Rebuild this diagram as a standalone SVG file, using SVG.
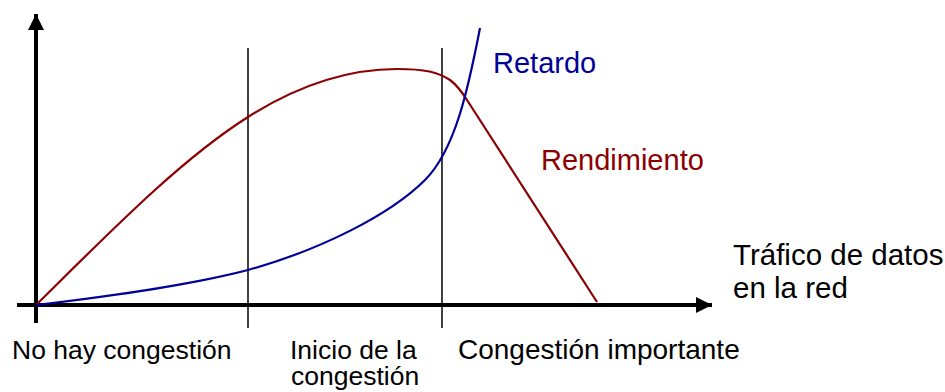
<svg xmlns="http://www.w3.org/2000/svg" width="945" height="392" viewBox="0 0 945 392">
<style>
  text { font-family: "Liberation Sans", Arial, sans-serif; font-size: 28px; fill: #000; }
  .axis { stroke: #000; stroke-width: 4; fill: none; }
  .div { stroke: #000; stroke-width: 1.5; fill: none; }
  .red { stroke: #8B0000; stroke-width: 2.2; fill: none; }
  .blue { stroke: #000099; stroke-width: 2.2; fill: none; }
  .tred { fill: #8B0000; font-size: 29px; }
  .tblue { fill: #000099; font-size: 29px; }
  .small { font-size: 26.5px; }
  .big { font-size: 29.5px; }
</style>
<defs>
  <marker id="arr" markerUnits="userSpaceOnUse" markerWidth="17" markerHeight="16" refX="16" refY="8" orient="auto">
    <path d="M0,0 L16,8 L0,16 Z" fill="#000"/>
  </marker>
</defs>
<g id="axes">
  <line class="axis" x1="36" y1="323" x2="36" y2="14" marker-end="url(#arr)"/>
  <line class="axis" x1="17" y1="305" x2="712" y2="305" marker-end="url(#arr)"/>
</g>
<g id="dividers">
  <line class="div" x1="248" y1="48" x2="248" y2="328"/>
  <line class="div" x1="442" y1="48" x2="442" y2="328"/>
</g>
<g id="connectors">
  <path id="rendimiento-curve" class="red" d="M36,305 C110,232 180,160 248,117 C300,84 350,69 397,69 C425,69 438,72 450,80 C458,86 462,92 467,100 L597,302"/>
  <path id="retardo-curve" class="blue" d="M36,305 C120,295 190,285 248,270 C320,250 390,215 425,180 C455,150 468,90 480,28"/>
</g>
<g id="label-retardo"><text class="tblue" x="493" y="73">Retardo</text></g>
<g id="label-rendimiento"><text class="tred" x="541" y="170">Rendimiento</text></g>
<g id="label-trafico">
  <text class="big"><tspan x="733" y="265">Tráfico de datos</tspan><tspan x="733" y="298">en la red</tspan></text>
</g>
<g id="label-no-congestion"><text class="small" x="12" y="359">No hay congestión</text></g>
<g id="label-inicio">
  <text class="small"><tspan x="290" y="359">Inicio de la</tspan><tspan x="291" y="385">congestión</tspan></text>
</g>
<g id="label-importante"><text x="458" y="359">Congestión importante</text></g>
</svg>
